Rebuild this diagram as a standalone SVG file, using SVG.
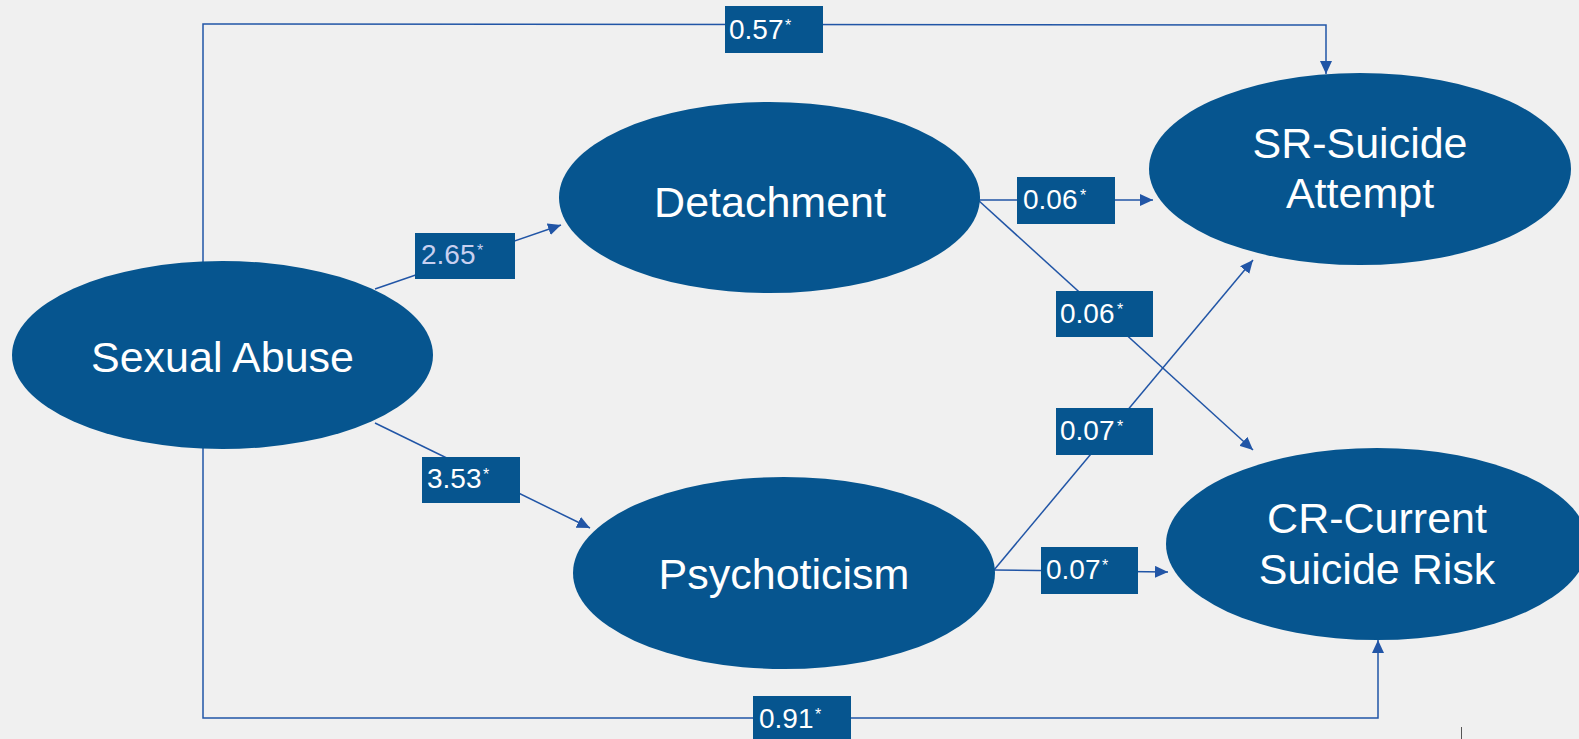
<svg xmlns="http://www.w3.org/2000/svg" width="1579" height="739" viewBox="0 0 1579 739">
  <defs>
    <marker id="arrow" viewBox="0 0 13 12" markerWidth="13" markerHeight="12" refX="13" refY="6" orient="auto" markerUnits="userSpaceOnUse">
      <path d="M0,0 L13,6 L0,12 z" fill="#2155a6"/>
    </marker>
    <style>
      .node { fill: #06558f; }
      .node-label { font-family: "Liberation Sans", Arial, sans-serif; font-size: 43px; fill: #ffffff; text-anchor: middle; }
      .path { fill: none; stroke: #2155a6; stroke-width: 1.5; }
      .box { fill: #06558f; }
      .coef { font-family: "Liberation Sans", Arial, sans-serif; font-size: 28px; fill: #ffffff; }
      .star { font-family: "Liberation Sans", Arial, sans-serif; font-size: 16px; fill: #ffffff; }
      .light { fill: #c8d0f0; }
    </style>
  </defs>

  <rect width="1579" height="739" fill="#f0f0f0"/>

  <!-- paths between constructs -->
  <g id="connectors">
    <polyline class="path" points="203,262 203,24 1326,25 1326,74" marker-end="url(#arrow)"/>
    <polyline class="path" points="203,448 203,718 1378,718 1378,640" marker-end="url(#arrow)"/>
    <line class="path" x1="375" y1="289" x2="561" y2="225" marker-end="url(#arrow)"/>
    <line class="path" x1="375" y1="423" x2="590" y2="528" marker-end="url(#arrow)"/>
    <line class="path" x1="978" y1="200" x2="1153" y2="200" marker-end="url(#arrow)"/>
    <line class="path" x1="978" y1="200" x2="1253" y2="450" marker-end="url(#arrow)"/>
    <line class="path" x1="994" y1="570" x2="1253" y2="260" marker-end="url(#arrow)"/>
    <line class="path" x1="994" y1="570" x2="1168" y2="572" marker-end="url(#arrow)"/>
  </g>

  <!-- coefficient labels -->
  <g id="labels">
    <rect class="box" x="725" y="6" width="98" height="47"/>
    <text class="coef" x="729" y="39">0.57</text><text class="star" x="785" y="31">*</text>

    <rect class="box" x="415" y="233" width="100" height="46"/>
    <text class="coef light" x="421" y="264">2.65</text><text class="star light" x="477" y="256">*</text>

    <rect class="box" x="422" y="457" width="98" height="46"/>
    <text class="coef" x="427" y="488">3.53</text><text class="star" x="483" y="480">*</text>

    <rect class="box" x="1017" y="177" width="98" height="47"/>
    <text class="coef" x="1023" y="209">0.06</text><text class="star" x="1080" y="201">*</text>

    <rect class="box" x="1056" y="291" width="97" height="46"/>
    <text class="coef" x="1060" y="323">0.06</text><text class="star" x="1117" y="315">*</text>

    <rect class="box" x="1056" y="408" width="97" height="47"/>
    <text class="coef" x="1060" y="440">0.07</text><text class="star" x="1117" y="432">*</text>

    <rect class="box" x="1041" y="547" width="97" height="47"/>
    <text class="coef" x="1046" y="579">0.07</text><text class="star" x="1102" y="571">*</text>

    <rect class="box" x="753" y="696" width="98" height="43"/>
    <text class="coef" x="759" y="728">0.91</text><text class="star" x="815" y="720">*</text>
  </g>

  <g id="sexual-abuse">
    <ellipse class="node" cx="222.5" cy="355" rx="210.5" ry="94"/>
    <text class="node-label" x="222.5" y="372">Sexual Abuse</text>
  </g>

  <g id="detachment">
    <ellipse class="node" cx="769.5" cy="197.5" rx="210.5" ry="95.5"/>
    <text class="node-label" x="770" y="217">Detachment</text>
  </g>

  <g id="psychoticism">
    <ellipse class="node" cx="784" cy="573" rx="211" ry="96"/>
    <text class="node-label" x="784" y="589">Psychoticism</text>
  </g>

  <g id="sr-suicide-attempt">
    <ellipse class="node" cx="1360" cy="169" rx="211" ry="96"/>
    <text class="node-label" x="1360" y="158">SR-Suicide</text>
    <text class="node-label" x="1360" y="208">Attempt</text>
  </g>

  <g id="cr-current-suicide-risk">
    <ellipse class="node" cx="1377" cy="544" rx="211" ry="96"/>
    <text class="node-label" x="1377" y="533">CR-Current</text>
    <text class="node-label" x="1377" y="584">Suicide Risk</text>
  </g>

  <line x1="1461.5" y1="727" x2="1461.5" y2="739" stroke="#555555" stroke-width="1"/>
</svg>
